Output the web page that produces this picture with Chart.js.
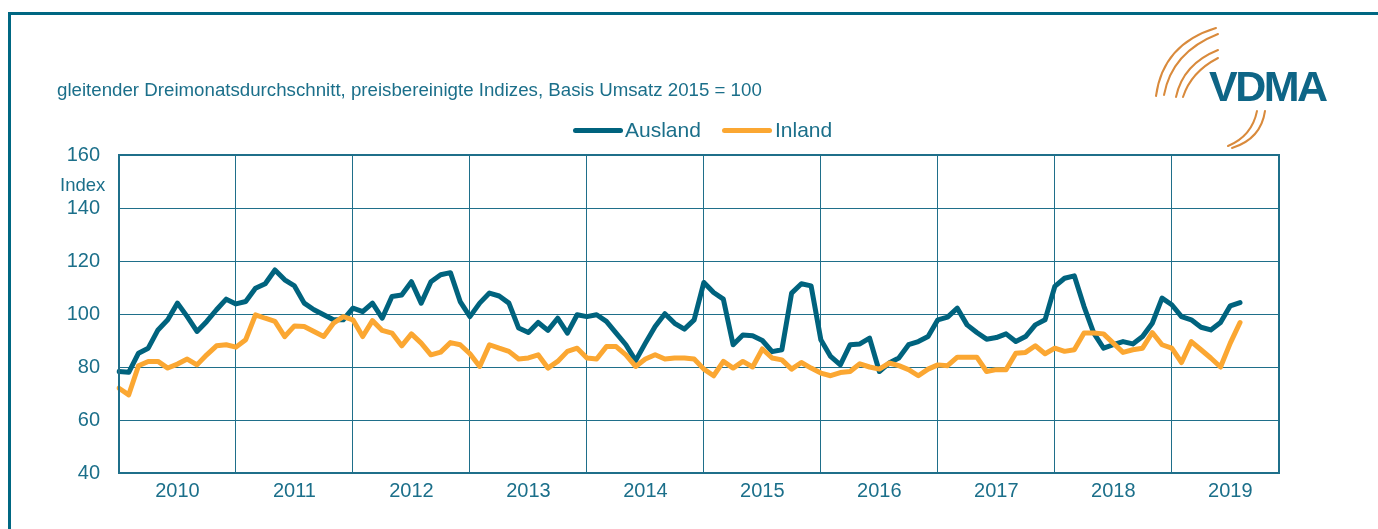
<!DOCTYPE html>
<html>
<head>
<meta charset="utf-8">
<script src="https://cdn.jsdelivr.net/npm/chart.js@4.4.1/dist/chart.umd.min.js"></script>
<style>
  html, body { margin: 0; padding: 0; background: #fff; }
  #wrap { position: relative; width: 1378px; height: 529px; overflow: hidden; font-family: Arial, "Liberation Sans", sans-serif; color: #1b6f8a; }
  #frame { position: absolute; left: 8px; top: 12px; width: 1500px; height: 600px; border-left: 3.5px solid #006782; border-top: 3.5px solid #006782; }
  #chartBox { position: absolute; left: 0; top: 0; width: 1378px; height: 529px; }
  .txt { position: absolute; white-space: nowrap; }
  #subtitle { left: 57px; top: 79px; font-size: 18.7px; line-height: 22px; }
  #ylab { left: 60px; top: 174px; font-size: 18.5px; line-height: 22px; }
  .legbar { position: absolute; height: 5px; width: 50px; border-radius: 3px; top: 128px; }
  .legtxt { top: 118px; font-size: 21px; line-height: 24px; }
  #logo { left: 1209px; top: 61px; font-size: 43px; line-height: 50px; font-weight: bold; color: #0e6586; letter-spacing: -2.5px; }
  svg { position: absolute; left: 0; top: 0; }
</style>
</head>
<body>
<div id="wrap">
  <div id="frame"></div>
  <div id="chartBox"><canvas id="ordersChart"></canvas></div>
  <div class="txt" id="subtitle">gleitender Dreimonatsdurchschnitt, preisbereinigte Indizes, Basis Umsatz 2015 = 100</div>
  <div class="txt" id="ylab">Index</div>
  <div class="legbar" style="left:573px; background:#00637e;"></div>
  <div class="txt legtxt" style="left:625px;">Ausland</div>
  <div class="legbar" style="left:722px; background:#fba732;"></div>
  <div class="txt legtxt" style="left:775px;">Inland</div>
  <svg width="1378" height="529">
    <g fill="none" stroke="#d98a3c" stroke-width="2" stroke-linecap="round">
      <path d="M1156,96 Q1163,44 1216,28"/>
      <path d="M1164,95 Q1172,52 1218,34"/>
      <path d="M1176,97 Q1183,64 1218,50"/>
      <path d="M1183,97 Q1191,72 1218,58"/>
      <path d="M1228,146 Q1252,136 1257,111"/>
      <path d="M1232,148 Q1261,139 1265,111"/>
    </g>
  </svg>
  <div class="txt" id="logo">VDMA</div>
</div>
<script>
// Auftragseingang Maschinenbau, Monatswerte Jan 2010 - Dez 2019
const years = ['2010', '2011', '2012', '2013', '2014', '2015', '2016', '2017', '2018', '2019'];
const yTicks = [40, 60, 80, 100, 120, 140, 160];

const ausland = [
    78.3, 78.0, 85.2, 87.1, 94.0, 97.8, 104.1, 99.0, 93.4, 97.2, 101.6, 105.6,
    103.8, 104.7, 109.7, 111.4, 116.6, 112.9, 110.6, 104.1, 101.6, 99.7, 97.8, 97.8,
    102.2, 100.9, 104.1, 98.4, 106.6, 107.2, 112.2, 104.1, 112.2, 114.8, 115.6, 104.7,
    99.0, 104.1, 107.9, 106.8, 104.1, 94.7, 93.0, 96.8, 93.8, 98.4, 92.8, 99.7,
    99.0, 99.7, 97.2, 92.8, 88.4, 82.4, 89.0, 95.3, 100.1, 96.5, 94.3, 97.8,
    111.9, 108.1, 105.6, 88.4, 92.1, 91.8, 90.0, 85.8, 86.5, 107.9, 111.4, 110.6,
    90.3, 84.0, 80.8, 88.4, 88.7, 90.9, 78.3, 81.5, 83.4, 88.4, 89.6, 91.5,
    97.8, 98.8, 102.2, 95.9, 93.0, 90.5, 91.1, 92.5, 89.6, 91.5, 95.9, 97.8,
    110.4, 113.5, 114.4, 102.8, 92.8, 87.1, 88.4, 89.6, 88.7, 91.5, 96.5, 106.0,
    103.5, 99.0, 97.8, 95.0, 94.0, 96.8, 103.1, 104.3
];

const inland = [
    72.0, 69.5, 80.5, 82.1, 82.1, 79.6, 81.1, 83.0, 80.8, 84.6, 88.0, 88.4,
    87.5, 90.3, 99.7, 98.4, 97.2, 91.5, 95.5, 95.3, 93.4, 91.5, 96.5, 99.0,
    97.8, 91.5, 97.5, 93.8, 92.8, 88.0, 92.5, 89.0, 84.6, 85.6, 89.2, 88.4,
    85.0, 80.2, 88.4, 87.1, 85.9, 83.0, 83.4, 84.6, 79.6, 82.1, 85.9, 87.1,
    83.4, 83.0, 87.7, 87.7, 84.6, 80.2, 83.0, 84.6, 83.0, 83.4, 83.4, 83.0,
    79.2, 76.7, 82.1, 79.6, 82.1, 80.0, 86.8, 83.4, 82.7, 79.2, 81.7, 79.6,
    77.7, 76.7, 77.9, 78.3, 81.2, 80.0, 79.2, 81.5, 80.5, 79.0, 76.7, 79.2,
    80.8, 80.5, 83.7, 83.7, 83.7, 78.3, 79.0, 79.0, 85.2, 85.5, 88.0, 85.0,
    87.1, 85.9, 86.5, 92.8, 92.8, 92.5, 89.0, 85.5, 86.5, 87.1, 93.0, 88.4,
    87.1, 81.7, 89.6, 86.5, 83.4, 80.0, 89.0, 96.8
];

// one label per month, 12 per year
const months = [];
years.forEach(function(y) {
    for (let m = 1; m <= 12; m++) months.push(y + '-' + (m < 10 ? '0' + m : m));
});

const teal = '#1f6f8a';

// frame round the plot area
const plotFrame = {
    id: 'plotFrame',
    afterDraw: function(chart) {
        const a = chart.chartArea;
        const c = chart.ctx;
        c.save();
        c.strokeStyle = teal;
        c.lineWidth = 2;
        c.strokeRect(a.left, a.top, a.right - a.left, a.bottom - a.top);
        c.restore();
    }
};

document.addEventListener('DOMContentLoaded', function() {
    const ctx = document.getElementById('ordersChart').getContext('2d');
    new Chart(ctx, {
        type: 'line',
        data: {
            labels: months,
            datasets: [{
                label: 'Ausland',
                data: ausland,
                borderColor: '#00637e',
                borderWidth: 5,
                pointRadius: 0,
                tension: 0,
                borderJoinStyle: 'round',
                borderCapStyle: 'round',
                order: 1
            }, {
                label: 'Inland',
                data: inland,
                borderColor: '#fba732',
                borderWidth: 5,
                pointRadius: 0,
                tension: 0,
                borderJoinStyle: 'round',
                borderCapStyle: 'round',
                order: 0
            }]
        },
        options: {
            responsive: true,
            maintainAspectRatio: false,
            animation: false,
            layout: { padding: { left: 0, top: 155, right: 99, bottom: 0 } },
            plugins: {
                legend: { display: false },
                tooltip: { enabled: false }
            },
            scales: {
                x: {
                    offset: false,
                    afterFit: function(s) { s.height = 56; },
                    grid: {
                        offset: false,
                        drawTicks: false,
                        lineWidth: 1,
                        color: function(c) { return c.index % 12 === 0 ? teal : 'rgba(0,0,0,0)'; }
                    },
                    border: { display: false },
                    ticks: {
                        autoSkip: false,
                        maxRotation: 0,
                        minRotation: 0,
                        padding: 6,
                        color: '#1b6f8a',
                        font: { family: 'Arial', size: 20 },
                        callback: function(v, i) { return i % 12 === 6 ? years[(i - 6) / 12] : ''; }
                    }
                },
                y: {
                    min: 40,
                    max: 160,
                    afterFit: function(s) { s.width = 119; },
                    afterBuildTicks: function(s) { s.ticks = yTicks.map(function(v) { return { value: v }; }); },
                    grid: { drawTicks: false, color: teal, lineWidth: 1 },
                    border: { display: false },
                    ticks: {
                        padding: 19,
                        color: '#1b6f8a',
                        font: { family: 'Arial', size: 20 }
                    }
                }
            }
        },
        plugins: [plotFrame]
    });
});
</script>
</body>
</html>
